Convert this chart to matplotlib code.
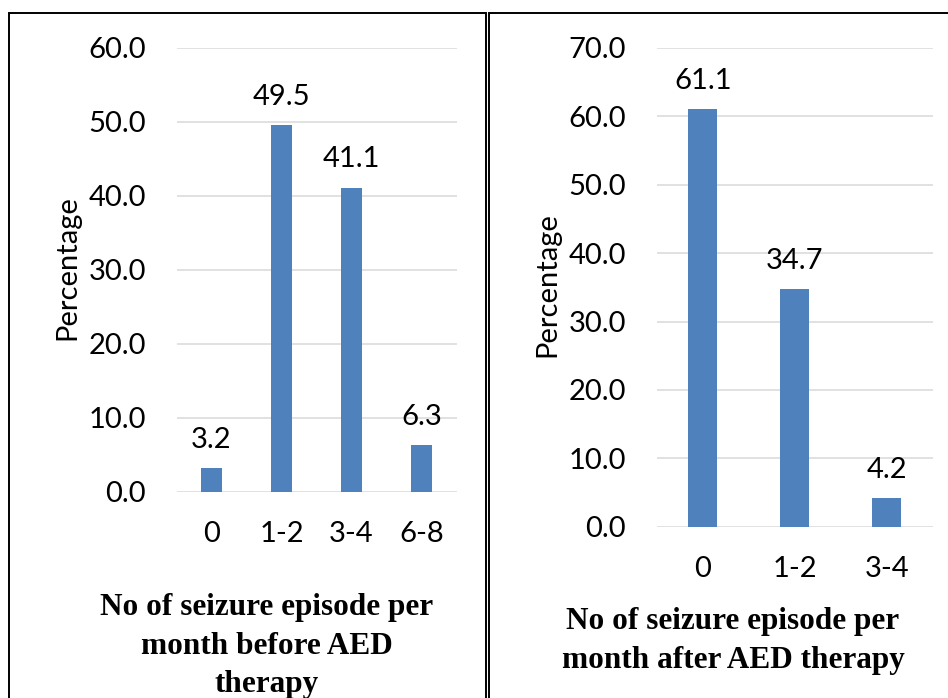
import matplotlib

matplotlib.use("Agg")
import matplotlib.pyplot as plt
from matplotlib.patches import Rectangle

# valores
antes_cats = ["0", "1-2", "3-4", "6-8"]
antes_vals = [3.2, 49.5, 41.1, 6.3]
despues_cats = ["0", "1-2", "3-4"]
despues_vals = [61.1, 34.7, 4.2]

AZUL = "#4F81BD"
GRIS = "#D9D9D9"
TICK_FONT = "Lato"
TITLE_FONT = "Liberation Serif"
FS = 21

W, H = 948, 698
fig = plt.figure(figsize=(W / 100, H / 100), dpi=100)


def px(x0, y0, x1, y1):
    # caja en píxeles (origen arriba-izquierda) -> [left, bottom, width, height]
    return [x0 / W, 1 - y1 / H, (x1 - x0) / W, (y1 - y0) / H]


def panel(ax, cats, vals, ymax, width):
    xs = range(len(cats))
    ax.bar(xs, vals, width=width, color=AZUL, zorder=3)
    ax.set_xlim(-0.5, len(cats) - 0.5)
    ax.set_ylim(0, ymax)
    ax.set_yticks(range(0, ymax + 1, 10))
    ax.set_yticklabels([f"{v:.1f}" for v in range(0, ymax + 1, 10)])
    ax.set_xticks(list(xs))
    ax.set_xticklabels(cats)
    ax.grid(axis="y", color=GRIS, lw=1.1, zorder=0)
    for s in ax.spines.values():
        s.set_visible(False)
    ax.tick_params(length=0, labelsize=FS)
    ax.tick_params(axis="y", pad=22)
    ax.tick_params(axis="x", pad=21)
    for lab in ax.get_xticklabels() + ax.get_yticklabels():
        lab.set_fontfamily(TICK_FONT)
    for x, v in zip(xs, vals):
        ax.annotate(f"{v:.1f}", (x, v), xytext=(0, 14.5), textcoords="offset points",
                    ha="center", va="baseline", fontsize=FS, family=TICK_FONT)


ax1 = fig.add_axes(px(176.5, 47.7, 456.5, 491.7))
panel(ax1, antes_cats, antes_vals, 60, 0.31)
ax2 = fig.add_axes(px(656.8, 47.9, 932.7, 526.7))
panel(ax2, despues_cats, despues_vals, 70, 0.315)

fig.text(67.5 / W, 1 - 268 / H, "Percentage", rotation=90, ha="center", va="center",
         fontsize=FS, family=TICK_FONT)
fig.text(547 / W, 1 - 285 / H, "Percentage", rotation=90, ha="center", va="center",
         fontsize=FS, family=TICK_FONT)

fig.text(267 / W, 1 - 646 / H, "No of seizure episode per\nmonth before AED\ntherapy",
         ha="center", va="center", multialignment="center", fontsize=22.5,
         family=TITLE_FONT, weight="bold", linespacing=1.42)
fig.text(733 / W, 1 - 641 / H, "No of seizure episode per\nmonth after AED therapy",
         ha="center", va="center", multialignment="center", fontsize=22.5,
         family=TITLE_FONT, weight="bold", linespacing=1.42)

# marcos de los dos paneles (se salen por abajo / derecha como en la figura original)
for x0, x1 in [(9.3, 485.7), (489, 1000)]:
    fig.add_artist(Rectangle((x0 / W, -0.1), (x1 - x0) / W, 1.1 - 13 / H,
                             transform=fig.transFigure, fill=False, ec="black",
                             lw=1.4, clip_on=False))

fig.savefig("out.png", dpi=100)
